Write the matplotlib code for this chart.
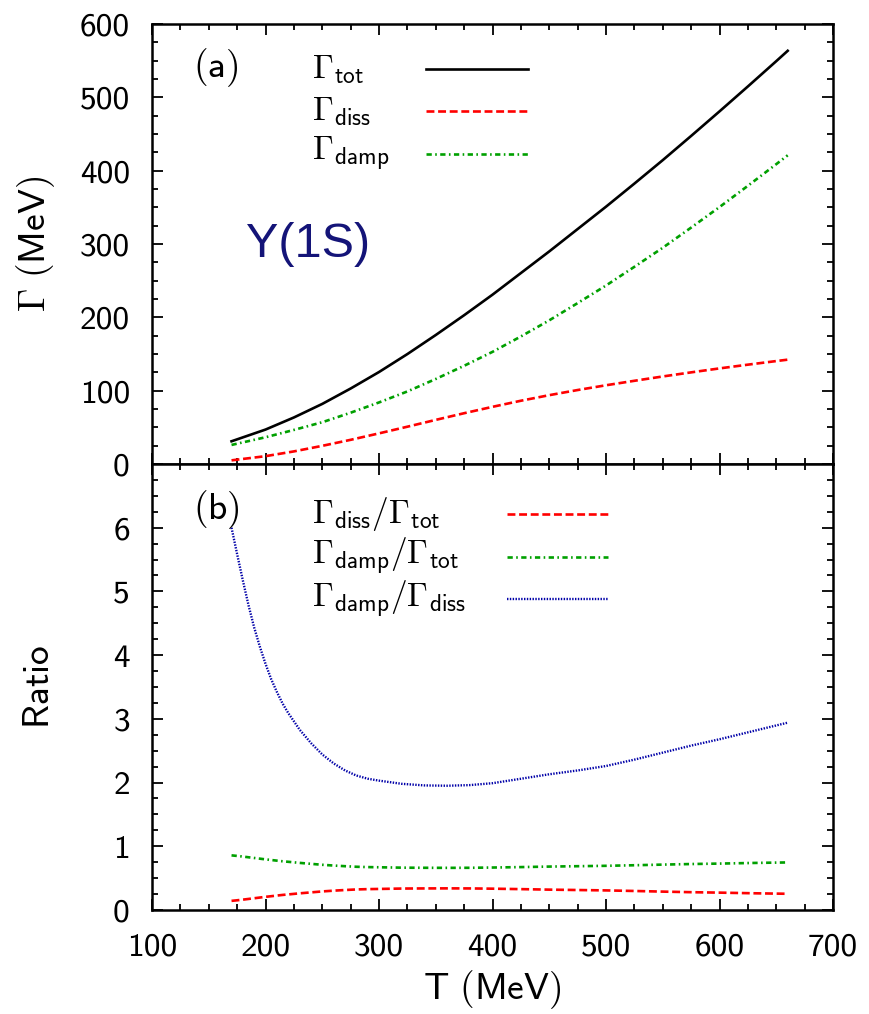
import matplotlib
matplotlib.use("Agg")
import matplotlib.pyplot as plt
from matplotlib.ticker import MultipleLocator, FixedLocator

plt.rcParams['mathtext.fontset'] = 'cm'
plt.rcParams['axes.linewidth'] = 1.8

# panel (a): widths in MeV
T = [170, 200, 225, 250, 275, 300, 325, 350, 375, 400, 425, 450, 475, 500,
     525, 550, 575, 600, 625, 650, 660]
g_tot = [31, 47, 63.5, 82, 103, 125.5, 150, 176, 203, 231, 260.5, 290, 320.5,
         351, 382.5, 414.5, 447.5, 481, 515, 549.5, 563.5]
g_diss = [5, 10.7, 17.2, 24.8, 33, 41.8, 50.9, 60.2, 69.3, 78, 86.3, 93.9,
          100.9, 107.4, 113.5, 119.4, 125, 130.4, 135.5, 140.4, 142.3]
g_damp = [26, 36.5, 46.5, 57, 70, 84, 99, 116, 134, 153, 174, 196, 219.5,
          243.5, 269, 295, 322.5, 350.5, 379.5, 409, 421]

# panel (b): ratios
T_r = [170, 175, 180, 185, 190, 195, 200, 205, 210, 215, 220, 230, 240, 250,
       260, 270, 280, 290, 300, 320, 340, 360, 380, 400, 425, 450, 475, 500,
       525, 550, 575, 600, 630, 660]
r_diss_tot = [0.143, 0.152, 0.162, 0.173, 0.184, 0.195, 0.206, 0.216, 0.226,
              0.236, 0.244, 0.261, 0.276, 0.291, 0.303, 0.313, 0.322, 0.327,
              0.330, 0.336, 0.338, 0.339, 0.338, 0.334, 0.327, 0.319, 0.313,
              0.307, 0.298, 0.288, 0.279, 0.272, 0.262, 0.254]
r_damp_tot = [0.857, 0.848, 0.838, 0.827, 0.816, 0.805, 0.794, 0.784, 0.774,
              0.764, 0.756, 0.739, 0.724, 0.709, 0.697, 0.687, 0.678, 0.673,
              0.670, 0.664, 0.662, 0.661, 0.662, 0.666, 0.673, 0.681, 0.687,
              0.693, 0.702, 0.712, 0.721, 0.728, 0.738, 0.746]
r_damp_diss = [6.0, 5.58, 5.17, 4.78, 4.43, 4.13, 3.86, 3.62, 3.42, 3.24, 3.09,
               2.83, 2.62, 2.44, 2.30, 2.19, 2.11, 2.06, 2.03, 1.98, 1.955,
               1.95, 1.96, 1.99, 2.06, 2.13, 2.19, 2.26, 2.36, 2.47, 2.58, 2.68,
               2.81, 2.94]

black = dict(color='black', lw=1.9, ls='-')
red = dict(color='#ff0000', lw=1.9, dashes=(3.0, 1.4))
green = dict(color='#00a000', lw=1.9, dashes=(2.0, 1.3, 0.6, 1.3))
blue = dict(color='#0000a8', lw=1.7, dashes=(0.6, 0.6))

fig = plt.figure(figsize=(8.69, 10.14), dpi=100)
ax1 = fig.add_axes([0.175, 0.5424, 0.7837, 0.4339])
ax2 = fig.add_axes([0.175, 0.1026, 0.7837, 0.4398], sharex=ax1)

ax1.plot(T, g_tot, **black)
ax1.plot(T, g_diss, **red)
ax1.plot(T, g_damp, **green)

ax2.plot(T_r, r_diss_tot, **red)
ax2.plot(T_r, r_damp_tot, **green)
ax2.plot(T_r, r_damp_diss, **blue)


def key(ax, entries, x_text, x0, x1, ys):
    for (label, st), y in zip(entries, ys):
        ax.text(x_text, y, label, transform=ax.transAxes, fontsize=24,
                ha='left', va='center')
        ax.plot([x0, x1], [y, y], transform=ax.transAxes, **st)


key(ax1, [(r'$\Gamma_{\mathsf{tot}}$', black),
          (r'$\Gamma_{\mathsf{diss}}$', red),
          (r'$\Gamma_{\mathsf{damp}}$', green)],
    0.2345, 0.402, 0.552, [0.897, 0.802, 0.704])
key(ax2, [(r'$\Gamma_{\mathsf{diss}}/\Gamma_{\mathsf{tot}}$', red),
          (r'$\Gamma_{\mathsf{damp}}/\Gamma_{\mathsf{tot}}$', green),
          (r'$\Gamma_{\mathsf{damp}}/\Gamma_{\mathsf{diss}}$', blue)],
    0.2345, 0.521, 0.670, [0.887, 0.792, 0.697])

ax1.text(0.094, 0.902, r'$\mathsf{(a)}$', transform=ax1.transAxes,
         fontsize=27, ha='center', va='center')
ax2.text(0.094, 0.897, r'$\mathsf{(b)}$', transform=ax2.transAxes,
         fontsize=27, ha='center', va='center')
ax1.text(0.138, 0.47, 'Υ(1S)', transform=ax1.transAxes, fontsize=35,
         family='Liberation Sans', color='#141478', ha='left', va='baseline')

ax1.set_xlim(100, 700)
ax1.set_ylim(0, 600)
ax2.set_ylim(0, 7)

ax1.xaxis.set_major_locator(MultipleLocator(100))
ax1.xaxis.set_minor_locator(MultipleLocator(25))
ax1.yaxis.set_major_locator(MultipleLocator(100))
ax1.yaxis.set_minor_locator(MultipleLocator(25))
ax2.yaxis.set_major_locator(FixedLocator(range(0, 7)))
ax2.yaxis.set_minor_locator(MultipleLocator(0.25))

for ax in (ax1, ax2):
    ax.tick_params(which='both', direction='in', top=True, right=True,
                   width=1.3, pad=16, labelsize=24, labelfontfamily='cmss10')
    ax.tick_params(which='major', length=8)
    ax.tick_params(which='minor', length=4)
ax1.tick_params(labelbottom=False)

ax1.set_ylabel(r'$\Gamma\ \mathsf{(MeV)}$', fontsize=27)
ax2.set_ylabel(r'$\mathsf{Ratio}$', fontsize=27)
ax2.set_xlabel(r'$\mathsf{T\ (MeV)}$', fontsize=27)
ax1.yaxis.set_label_coords(-0.14, 0.5)
ax2.yaxis.set_label_coords(-0.14, 0.5)
ax2.xaxis.set_label_coords(0.5, -0.13)

fig.savefig('out.png', dpi=100)
